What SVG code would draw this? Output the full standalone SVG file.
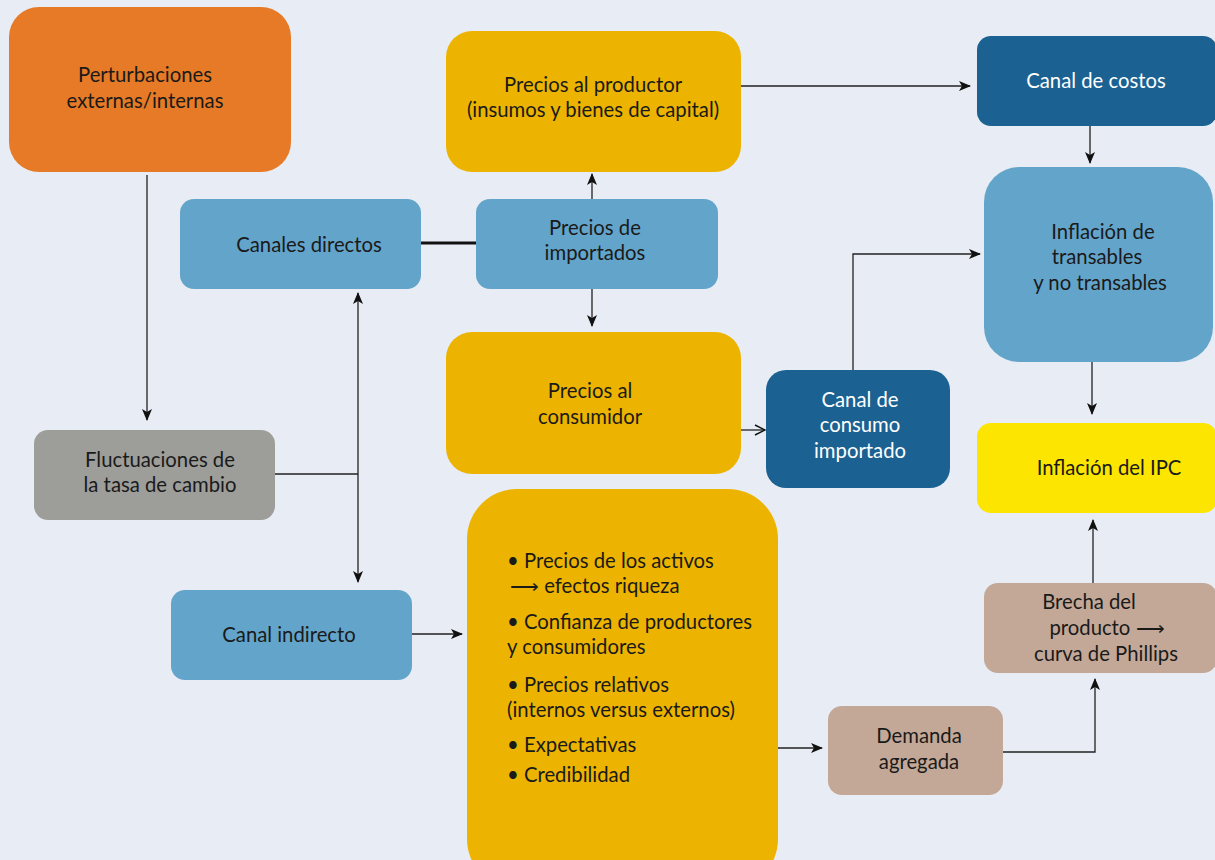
<svg xmlns="http://www.w3.org/2000/svg" width="1215" height="860" viewBox="0 0 1215 860">
<defs>
<marker id="ah" viewBox="0 0 12 10" refX="11" refY="5" markerWidth="12" markerHeight="10" markerUnits="userSpaceOnUse" orient="auto-start-reverse">
<path d="M0,0 L12,5 L0,10 L3,5 z" fill="#111"/>
</marker>
<marker id="av" viewBox="0 0 12 12" refX="11" refY="6" markerWidth="12" markerHeight="12" markerUnits="userSpaceOnUse" orient="auto">
<path d="M1,1 L11,6 L1,11" fill="none" stroke="#111" stroke-width="1.5"/>
</marker>
<style>
text{font-family:Lato,"Open Sans","Liberation Sans",sans-serif;font-size:20.3px;fill:#1a1a1a;text-anchor:middle}
.w{fill:#ffffff}
.l{text-anchor:start}
.c{fill:none;stroke:#222;stroke-width:1.3}
.lb{fill:#63A4CA}
.db{fill:#1B6292}
.ye{fill:#ECB400}
.tan{fill:#C3A897}
</style>
</defs>
<rect width="1215" height="860" fill="#E8ECF4"/>
<g id="perturbaciones"><rect x="9" y="7" width="282" height="165" rx="30" fill="#E67A26"/><text x="145" y="82">Perturbaciones</text><text x="145" y="108">externas/internas</text></g>
<g id="precios-productor"><rect class="ye" x="446" y="31" width="295" height="141" rx="26"/><text x="593" y="92">Precios al productor</text><text x="593" y="117">(insumos y bienes de capital)</text></g>
<g id="canal-costos"><rect class="db" x="977" y="36" width="240" height="90" rx="14"/><text class="w" x="1096" y="88">Canal de costos</text></g>
<g id="canales-directos"><rect class="lb" x="180" y="199" width="241" height="90" rx="14"/><text x="309" y="252">Canales directos</text></g>
<g id="precios-importados"><rect class="lb" x="476" y="199" width="242" height="90" rx="14"/><text x="595" y="235">Precios de</text><text x="595" y="260">importados</text></g>
<g id="inflacion-transables"><rect class="lb" x="984" y="167" width="229" height="195" rx="35"/><text x="1103" y="239">Inflación de</text><text x="1097" y="264">transables</text><text x="1100" y="290">y no transables</text></g>
<g id="precios-consumidor"><rect class="ye" x="446" y="332" width="295" height="142" rx="26"/><text x="590" y="398">Precios al</text><text x="590" y="424">consumidor</text></g>
<g id="canal-consumo"><rect class="db" x="766" y="370" width="184" height="118" rx="20"/><text class="w" x="860" y="407">Canal de</text><text class="w" x="860" y="432">consumo</text><text class="w" x="860" y="458">importado</text></g>
<g id="inflacion-ipc"><rect x="977" y="423" width="240" height="90" rx="14" fill="#FCE500"/><text x="1109" y="475">Inflación del IPC</text></g>
<g id="fluctuaciones"><rect x="34" y="430" width="241" height="90" rx="14" fill="#9D9D9A"/><text x="160" y="467">Fluctuaciones de</text><text x="160" y="492">la tasa de cambio</text></g>
<g id="canal-indirecto"><rect class="lb" x="171" y="590" width="241" height="90" rx="14"/><text x="289" y="642">Canal indirecto</text></g>
<g id="mecanismos"><rect class="ye" x="467" y="489" width="311" height="400" rx="50"/>
<text class="l" x="507" y="568">• Precios de los activos</text>
<text class="l" x="510" y="593">⟶ efectos riqueza</text>
<text class="l" x="507" y="629">• Confianza de productores</text>
<text class="l" x="507" y="654">y consumidores</text>
<text class="l" x="507" y="692">• Precios relativos</text>
<text class="l" x="507" y="717">(internos versus externos)</text>
<text class="l" x="507" y="752">• Expectativas</text>
<text class="l" x="507" y="782">• Credibilidad</text></g>
<g id="demanda-agregada"><rect class="tan" x="828" y="706" width="175" height="89" rx="14"/><text x="919" y="743">Demanda</text><text x="919" y="769">agregada</text></g>
<g id="brecha"><rect class="tan" x="984" y="583" width="233" height="90" rx="14"/><text x="1089" y="609">Brecha del</text><text x="1107" y="635">producto ⟶</text><text x="1106" y="661">curva de Phillips</text></g>
<g id="connectors">
<path class="c" d="M147,175 V420" marker-end="url(#ah)"/>
<path d="M421,243 H476" stroke="#111" stroke-width="3" fill="none"/>
<path class="c" d="M592,199 V174" marker-end="url(#ah)"/>
<path class="c" d="M592,289 V326" marker-end="url(#ah)"/>
<path class="c" d="M741,86 H970" marker-end="url(#ah)"/>
<path class="c" d="M1090,126 V163" marker-end="url(#ah)"/>
<path class="c" d="M853,370 V254 H980" marker-end="url(#ah)"/>
<path class="c" d="M741,430 H765" marker-end="url(#av)"/>
<path class="c" d="M1092,362 V414" marker-end="url(#ah)"/>
<path class="c" d="M1093,583 V520" marker-end="url(#ah)"/>
<path class="c" d="M1003,752 H1095 V679" marker-end="url(#ah)"/>
<path class="c" d="M778,748 H822" marker-end="url(#ah)"/>
<path class="c" d="M275,474 H358"/>
<path class="c" d="M358,293 V582" marker-start="url(#ah)" marker-end="url(#ah)"/>
<path class="c" d="M412,634 H462" marker-end="url(#ah)"/>
</g>
</svg>
